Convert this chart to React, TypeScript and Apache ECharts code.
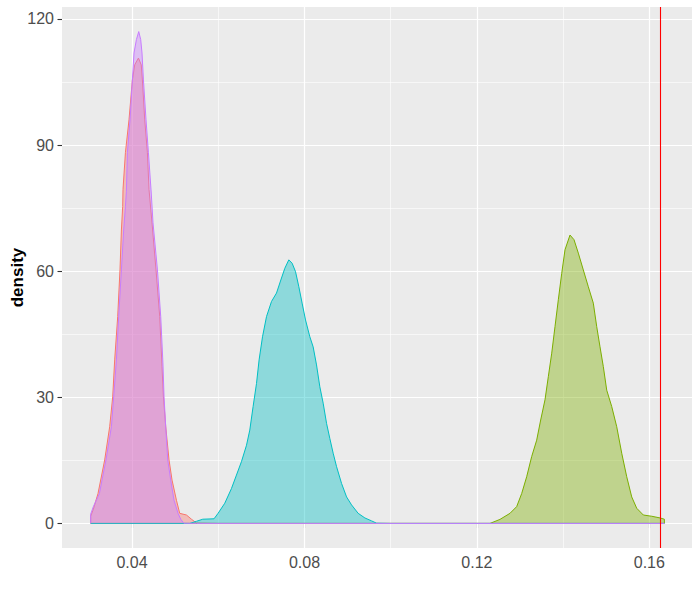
import React, { useEffect, useRef } from "react";
import * as echarts from "echarts";

// Density curves: [x, density]
const redDensity: number[][] = [
  [0.03041, 0], [0.03041, 1.7], [0.03104, 3.4], [0.03211, 7.1], [0.03366, 15.1], [0.03482, 23.0],
  [0.03552, 30.1], [0.03598, 38.9], [0.03668, 49.2], [0.03721, 60.3], [0.03754, 69.8],
  [0.03784, 75.4], [0.03791, 79.4], [0.03847, 88.2], [0.0393, 96.0], [0.04009, 105.5],
  [0.04063, 109.1], [0.04149, 110.7], [0.04214, 109.1], [0.04241, 105.5], [0.04295, 96.0],
  [0.04357, 88.2], [0.04395, 79.4], [0.04464, 71.5], [0.04557, 60.3], [0.04643, 49.2],
  [0.04696, 37.3], [0.04729, 30.1], [0.04782, 23.0], [0.04859, 15.1], [0.04929, 10.3],
  [0.05031, 5.5], [0.05107, 2.4], [0.05263, 2.0], [0.05379, 1.0], [0.05495, 0.1],
  [0.06, 0], [0.16349, 0],
];

const greenDensity: number[][] = [
  [0.03041, 0], [0.12303, 0], [0.12535, 0.95], [0.12768, 2.4], [0.12923, 4.0], [0.13039, 7.1],
  [0.13155, 11.1], [0.13271, 15.9], [0.13387, 19.8], [0.1348, 24.6], [0.1358, 29.4],
  [0.13657, 34.9], [0.13736, 40.5], [0.13812, 46.8], [0.13889, 53.2], [0.13968, 59.5],
  [0.14044, 65.1], [0.1416, 68.6], [0.14253, 67.5], [0.14353, 64.3], [0.14469, 60.3],
  [0.14585, 56.3], [0.14701, 52.4], [0.1478, 46.8], [0.14856, 42.0], [0.14933, 37.3],
  [0.15012, 31.7], [0.15128, 27.8], [0.15244, 23.0], [0.1536, 16.7], [0.15476, 11.1],
  [0.15592, 6.3], [0.15708, 3.6], [0.15861, 2.0], [0.16057, 1.7], [0.16249, 1.3],
  [0.16349, 1.0], [0.16349, 0],
];

const cyanDensity: number[][] = [
  [0.03041, 0], [0.05339, 0], [0.05495, 0.5], [0.05641, 1.0], [0.05903, 1.1], [0.05996, 2.4],
  [0.06152, 4.8], [0.06307, 8.3], [0.06423, 11.5], [0.06539, 14.7], [0.06656, 18.6],
  [0.06732, 22.2], [0.06809, 27.8], [0.06888, 33.3], [0.06948, 38.9], [0.07027, 44.4],
  [0.0712, 49.2], [0.07236, 52.8], [0.07352, 54.8], [0.07452, 57.9], [0.07545, 60.7],
  [0.07637, 62.7], [0.07714, 61.9], [0.07793, 59.9], [0.0787, 56.3], [0.07946, 52.4],
  [0.08025, 48.4], [0.08125, 44.4], [0.08202, 42.0], [0.0828, 37.7], [0.08357, 32.5],
  [0.08434, 28.6], [0.08513, 23.8], [0.08589, 20.2], [0.08666, 16.7], [0.08745, 13.5],
  [0.08861, 9.5], [0.08977, 6.3], [0.09093, 4.4], [0.09246, 2.4], [0.09402, 1.3],
  [0.09557, 0.6], [0.09673, 0.05], [0.1, 0], [0.16349, 0],
];

const purpleDensity: number[][] = [
  [0.03041, 0], [0.03041, 2.2], [0.03104, 4.0], [0.03243, 7.1], [0.03396, 15.1], [0.03522, 23.0],
  [0.03575, 30.1], [0.03638, 38.9], [0.03691, 49.2], [0.03754, 60.3], [0.03807, 69.8],
  [0.03847, 75.4], [0.0387, 79.0], [0.03893, 88.2], [0.03954, 96.0], [0.04009, 105.5],
  [0.04046, 111.9], [0.04102, 115.1], [0.04156, 117.0], [0.04202, 115.1], [0.04232, 111.9],
  [0.04265, 105.5], [0.04325, 96.0], [0.04381, 88.2], [0.04446, 78.6], [0.04487, 71.5],
  [0.0459, 60.3], [0.04666, 49.2], [0.04717, 38.2], [0.04743, 30.1], [0.04782, 23.0],
  [0.04829, 15.1], [0.04898, 10.3], [0.04975, 5.5], [0.05068, 2.4], [0.0513, 1.0],
  [0.052, 0.05], [0.055, 0], [0.16349, 0],
];

const referenceLine = 0.16265;

const xMajorTicks = [0.04, 0.08, 0.12, 0.16];
const xMinorTicks = [0.06, 0.1, 0.14];
const yMajorTicks = [0, 30, 60, 90, 120];
const yMinorTicks = [15, 45, 75, 105];

const xMin = 0.02376;
const xMax = 0.1699;
const yMin = -5.85;
const yMax = 122.85;

const groups = [
  { name: "a", color: "#F8766D", data: redDensity },
  { name: "b", color: "#7CAE00", data: greenDensity },
  { name: "c", color: "#00BFC4", data: cyanDensity },
  { name: "d", color: "#C77CFF", data: purpleDensity },
];

export default function App() {
  const ref = useRef<HTMLDivElement>(null);
  useEffect(() => {
    if (!ref.current) return;
    const chart = echarts.init(ref.current, undefined, { renderer: "svg" });
    const font = "'Liberation Sans', Arial, sans-serif";
    const gridLines = [
      ...xMajorTicks.map((v) => ({ xAxis: v, lineStyle: { width: 1.2 } })),
      ...xMinorTicks.map((v) => ({ xAxis: v, lineStyle: { width: 0.6 } })),
      ...yMajorTicks.map((v) => ({ yAxis: v, lineStyle: { width: 1.2 } })),
      ...yMinorTicks.map((v) => ({ yAxis: v, lineStyle: { width: 0.6 } })),
    ];
    const densitySeries: any[] = groups.map((g, i) => ({
      type: "line",
      name: g.name,
      data: g.data,
      showSymbol: false,
      symbol: "none",
      z: 3 + i,
      lineStyle: { color: g.color, width: 1 },
      itemStyle: { color: g.color },
      areaStyle: { color: g.color, opacity: 0.4, origin: 0 },
      ...(i === groups.length - 1
        ? {
            markLine: {
              silent: true,
              precision: 8,
              symbol: ["none", "none"],
              label: { show: false },
              z: 20,
              lineStyle: { color: "#FF0000", width: 1.1, type: "solid", opacity: 1 },
              data: [{ xAxis: referenceLine }],
            },
          }
        : {}),
    }));
    chart.setOption({
      animation: false,
      grid: {
        left: 62,
        right: 8,
        top: 7,
        bottom: 52,
        show: true,
        backgroundColor: "#EBEBEB",
        borderWidth: 0,
        containLabel: false,
        outerBoundsMode: "none",
      },
      xAxis: {
        type: "value",
        min: xMin,
        max: xMax,
        axisLine: { show: false },
        splitLine: { show: false },
        axisTick: {
          show: true,
          customValues: xMajorTicks,
          length: 4.5,
          lineStyle: { color: "#333333", width: 1.1 },
        },
        axisLabel: {
          customValues: xMajorTicks,
          formatter: (v: number) => v.toFixed(2),
          color: "#4D4D4D",
          fontSize: 16,
          fontFamily: font,
          margin: 6,
        },
      },
      yAxis: {
        type: "value",
        min: yMin,
        max: yMax,
        name: "density",
        nameLocation: "middle",
        nameRotate: 90,
        nameGap: 36,
        nameMoveOverlap: false,
        nameTextStyle: { color: "#000000", fontSize: 17, fontWeight: "bold", fontFamily: font },
        axisLine: { show: false },
        splitLine: { show: false },
        axisTick: {
          show: true,
          customValues: yMajorTicks,
          length: 4.5,
          lineStyle: { color: "#333333", width: 1.1 },
        },
        axisLabel: {
          customValues: yMajorTicks,
          color: "#4D4D4D",
          fontSize: 16,
          fontFamily: font,
          margin: 8,
        },
      },
      series: [
        {
          type: "line",
          data: [],
          z: 1,
          silent: true,
          markLine: {
            silent: true,
            precision: 8,
            z: 1,
            symbol: ["none", "none"],
            label: { show: false },
            lineStyle: { color: "#FFFFFF", type: "solid", opacity: 1 },
            data: gridLines,
          },
        },
        ...densitySeries,
      ],
    });
    return () => chart.dispose();
  }, []);
  return (
    <div
      ref={ref}
      style={{ position: "fixed", left: 0, top: 0, width: 700, height: 600, background: "#FFFFFF" }}
    />
  );
}
